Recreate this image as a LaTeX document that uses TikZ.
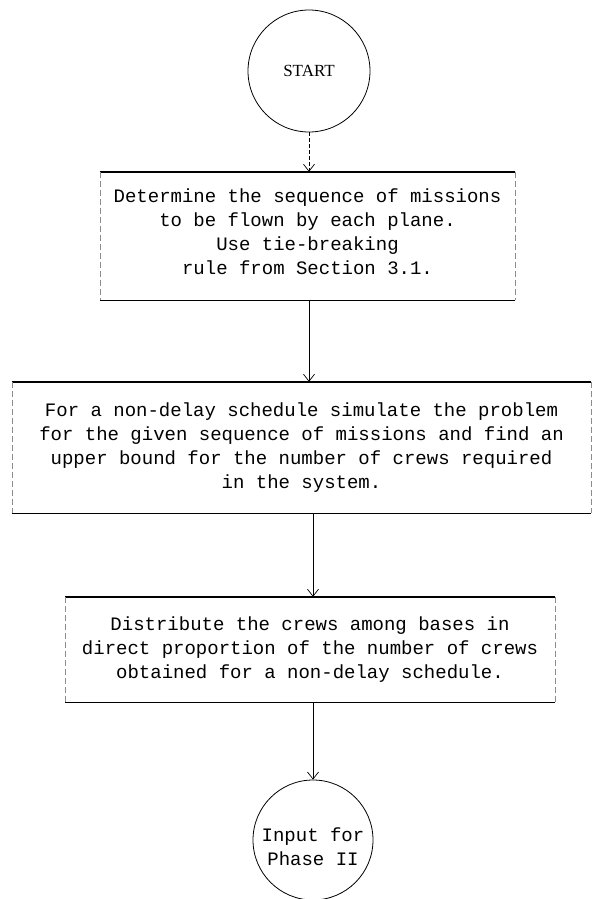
\documentclass[tikz,border=0pt]{standalone}
\usepackage{fontspec}
\setmonofont{Liberation Mono}
\newfontfamily\startfont{Liberation Serif}
\usetikzlibrary{arrows.meta}
\begin{document}
\begin{tikzpicture}[x=1pt,y=-1pt,
  txt/.style={font=\ttfamily\fontsize{19}{24}\selectfont, align=center},
  procbox/.style={txt, draw=none, inner sep=0pt},
  hline/.style={line width=1.4pt, black},
  vline/.style={line width=0.5pt, black!45, dash pattern=on 6pt off 3pt},
  term/.style={circle, draw, line width=0.8pt, inner sep=0pt},
  flow/.style={line width=0.7pt, -{Straight Barb[length=7pt,width=11pt]}}
]
\useasboundingbox (0,0) rectangle (592,899);

\node[term, minimum size=122pt, font=\startfont\fontsize{17}{20}\selectfont] (start) at (309,71) {START};

\node[procbox, minimum width=415pt, minimum height=128pt] (b1) at (307.5,236) {};
\node[txt] (t1) at (307.5,232)
  {Determine the sequence of missions\\to be flown by each plane.\\Use tie-breaking\\rule from Section 3.1.};

\node[procbox, minimum width=579pt, minimum height=131pt] (b2) at (301.5,447.5)
  {For a non-delay schedule simulate the problem\\for the given sequence of missions and find an\\upper bound for the number of crews required\\in the system.};

\node[procbox, minimum width=490pt, minimum height=105pt] (b3) at (310,649.5)
  {Distribute the crews among bases in\\direct proportion of the number of crews\\obtained for a non-delay schedule.};

\node[term, minimum size=120pt] (end) at (313,840) {};
\node[txt] (endtxt) at (313,847) {Input for\\Phase II};

\foreach \b in {b1,b2,b3}{
  \draw[hline] (\b.north west) -- (\b.north east);
  \draw[hline] (\b.south west) -- (\b.south east);
  \draw[vline] (\b.north west) -- (\b.south west);
  \draw[vline] (\b.north east) -- (\b.south east);
}

\draw[flow, dash pattern=on 4pt off 2pt] (start.south) -- (start.south |- b1.north);
\draw[flow] (start.south |- b1.south) -- (start.south |- b2.north);
\draw[flow] (313,0 |- b2.south) -- (313,0 |- b3.north);
\draw[flow] (end.north |- b3.south) -- (end.north);
\end{tikzpicture}
\end{document}
